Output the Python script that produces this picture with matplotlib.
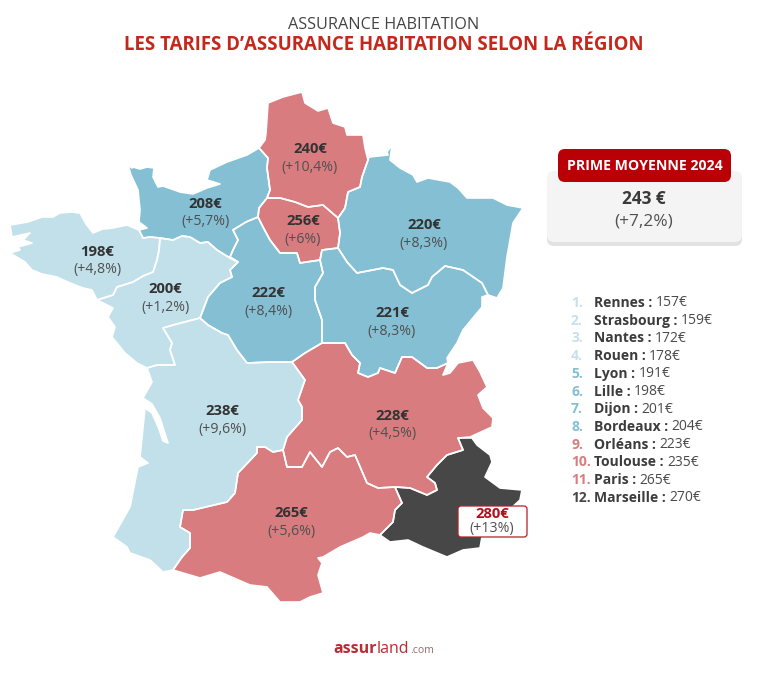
import matplotlib
matplotlib.use("Agg")
import matplotlib.pyplot as plt
from matplotlib.patches import Polygon, FancyBboxPatch

# ---------- data ----------
regions = ["Bretagne", "Pays de la Loire", "Normandie", "Hauts-de-France", "Ile-de-France", "Grand Est",
           "Centre", "Bourgogne", "Nouvelle-Aquitaine", "Auvergne-Rhone-Alpes", "Occitanie", "PACA"]
prices = ["198€", "200€", "208€", "240€", "256€", "220€", "222€", "221€", "238€", "228€", "265€", "280€"]
changes = ["(+4,8%)", "(+1,2%)", "(+5,7%)", "(+10,4%)", "(+6%)", "(+8,3%)", "(+8,4%)", "(+8,3%)", "(+9,6%)",
           "(+4,5%)", "(+5,6%)", "(+13%)"]
cities = ["Rennes", "Strasbourg", "Nantes", "Rouen", "Lyon", "Lille", "Dijon", "Bordeaux", "Orléans",
          "Toulouse", "Paris", "Marseille"]
city_prices = [157, 159, 172, 178, 191, 198, 201, 204, 223, 235, 265, 270]
city_colors = ["#c5e1ea", "#c5e1ea", "#c5e1ea", "#c5e1ea", "#84bfd4", "#84bfd4", "#84bfd4", "#84bfd4",
               "#d97c7f", "#d97c7f", "#d97c7f", "#474747"]

b_bre_pdl = [(160, 238), (159, 250), (157, 260), (153, 272), (143, 276), (133, 282), (117, 287), (113, 295), (97, 300)]
b_bre_coast = [(97, 300), (92, 290), (83, 288), (70, 283), (57, 277), (42, 274), (32, 270), (25, 262), (10, 253), (20, 250), (18, 247),
               (32, 243), (23, 240), (30, 233), (12, 237), (10, 225), (28, 222), (42, 217), (53, 217), (60, 213), (72, 212),
               (80, 213), (86, 224), (93, 233), (103, 229), (113, 228), (127, 225), (139, 230)]
b_nor_south = [(139, 230), (143, 238), (150, 237), (160, 238), (173, 240), (182, 236), (190, 237), (200, 243), (208, 242),
               (217, 250), (230, 258), (238, 262)]
b_nor_coast = [(139, 230), (147, 228), (139, 222), (140, 210), (138, 190), (131, 175), (128, 165), (132, 168),
               (133, 167), (140, 169), (147, 167), (154, 168), (153, 177), (158, 187), (163, 186), (180, 192),
               (193, 194), (207, 188), (220, 184), (207, 180), (210, 170), (227, 162), (247, 155), (259, 148)]
b_nor_hdf = [(259, 148), (268, 158), (267, 168), (270, 190), (267, 198)]
b_nor_idf = [(267, 198), (259, 208), (258, 217)]
b_nor_cvl = [(258, 217), (246, 222), (233, 230), (238, 240), (233, 250), (230, 257), (238, 262)]
b_idf_cvl = [(258, 217), (263, 227), (270, 240), (280, 253), (297, 253), (300, 263), (320, 260)]
b_idf_bfc = [(320, 260), (322, 250), (338, 248)]
b_idf_ge = [(338, 248), (340, 233), (338, 218)]
b_idf_hdf = [(338, 218), (323, 205), (308, 207), (295, 202), (280, 198), (267, 198)]
b_hdf_ge = [(338, 218), (345, 208), (348, 192), (360, 187), (362, 177), (368, 160)]
b_hdf_coast = [(368, 160), (365, 148), (363, 135), (347, 135), (345, 127), (333, 123), (328, 108), (318, 111),
               (305, 103), (302, 92), (283, 97), (268, 103), (266, 133), (265, 140), (259, 148)]
b_ge_north = [(368, 160), (369, 157), (388, 155), (387, 152), (392, 145), (390, 160), (400, 168), (413, 175),
              (417, 182), (428, 178), (450, 182), (458, 188), (467, 198), (477, 198), (493, 198), (507, 205),
              (523, 208), (513, 223), (507, 257), (503, 288), (497, 298), (488, 295)]
b_ge_bfc = [(338, 248), (347, 262), (357, 273), (383, 268), (393, 270), (400, 285), (412, 293), (428, 285),
            (432, 277), (445, 266), (463, 270), (482, 283), (488, 295)]
b_bfc_east = [(488, 295), (482, 297), (482, 307), (463, 330), (457, 343), (447, 358), (448, 363)]
b_bfc_ara = [(448, 363), (437, 368), (427, 368), (412, 357), (402, 357), (395, 373), (392, 372), (380, 368),
             (378, 373), (368, 377), (358, 373), (360, 363), (352, 355), (345, 343), (322, 343)]
b_bfc_cvl = [(322, 343), (322, 320), (315, 300), (315, 287), (323, 273), (320, 260)]
b_cvl_ara = [(322, 343), (305, 353), (292, 362)]
b_cvl_na = [(292, 362), (270, 362), (247, 363), (237, 350), (228, 335), (222, 333), (208, 325), (200, 318)]
b_cvl_pdl = [(200, 318), (208, 297), (220, 283), (232, 277), (230, 270), (238, 262)]
b_pdl_na = [(200, 318), (173, 325), (163, 328), (172, 343), (170, 350), (175, 365), (157, 365), (147, 368)]
b_pdl_coast = [(147, 368), (137, 363), (125, 353), (112, 337), (115, 327), (108, 317), (113, 308), (97, 300)]
b_na_coast = [(147, 368), (152, 382), (143, 398), (152, 404), (160, 418), (168, 443), (163, 441), (159, 429),
              (152, 413), (145, 408), (140, 457), (148, 463), (138, 467), (130, 507), (113, 537), (127, 547), (130, 553),
              (150, 560), (163, 572), (173, 570)]
b_na_occ = [(173, 570), (182, 557), (190, 548), (190, 533), (180, 527), (183, 510), (193, 510), (227, 502),
            (235, 493), (238, 473), (257, 453), (257, 447), (265, 447), (273, 452), (283, 450)]
b_na_ara = [(283, 450), (287, 437), (302, 420), (302, 407), (298, 400), (305, 380), (292, 362)]
b_occ_ara = [(283, 450), (287, 467), (302, 467), (310, 452), (322, 467), (330, 452), (338, 448), (347, 457),
             (355, 455), (367, 483), (378, 488), (395, 487)]
b_occ_paca = [(395, 487), (402, 503), (395, 510), (393, 522), (380, 535)]
b_occ_coast = [(380, 535), (370, 533), (363, 537), (340, 547), (323, 557), (318, 558), (322, 563), (318, 575),
               (323, 593), (310, 597), (300, 602), (280, 602), (267, 587), (250, 585), (220, 572), (200, 578),
               (173, 570)]
b_ara_east = [(448, 363), (443, 375), (450, 373), (458, 363), (473, 360), (480, 372), (487, 387), (478, 395),
              (483, 408), (493, 418), (492, 427), (470, 437), (458, 438)]
b_ara_paca = [(458, 438), (463, 450), (447, 455), (437, 465), (427, 477), (435, 483), (437, 490), (427, 495),
              (410, 488), (395, 487)]
b_paca_coast = [(458, 438), (472, 438), (477, 445), (490, 455), (492, 462), (485, 477), (500, 488), (522, 490),
                (520, 500), (507, 512), (482, 537), (480, 548), (463, 550), (447, 557), (423, 547), (408, 540),
                (390, 542), (380, 535)]


def rev(points):
    return points[::-1]


outlines = [
    b_bre_pdl + b_bre_coast[1:] + b_nor_south[1:4],
    b_bre_pdl + rev(b_pdl_coast)[1:] + rev(b_pdl_na)[1:] + b_cvl_pdl[1:] + rev(b_nor_south)[1:9],
    b_nor_south + rev(b_nor_cvl)[1:] + rev(b_nor_idf)[1:] + rev(b_nor_hdf)[1:] + rev(b_nor_coast)[1:],
    b_nor_hdf + rev(b_idf_hdf)[1:] + b_hdf_ge[1:] + b_hdf_coast[1:],
    b_nor_idf + b_idf_cvl[1:] + b_idf_bfc[1:] + b_idf_ge[1:] + b_idf_hdf[1:],
    b_idf_ge + b_hdf_ge[1:] + b_ge_north[1:] + rev(b_ge_bfc)[1:],
    b_nor_cvl + rev(b_cvl_pdl)[1:] + rev(b_cvl_na)[1:] + rev(b_cvl_ara)[1:] + b_bfc_cvl[1:] + rev(b_idf_cvl)[1:],
    b_ge_bfc + b_bfc_east[1:] + b_bfc_ara[1:] + b_bfc_cvl[1:] + b_idf_bfc[1:],
    rev(b_pdl_na) + rev(b_cvl_na)[1:] + rev(b_na_ara)[1:] + rev(b_na_occ)[1:] + rev(b_na_coast)[1:],
    b_cvl_ara + rev(b_na_ara)[1:] + b_occ_ara[1:] + rev(b_ara_paca)[1:] + rev(b_ara_east)[1:] + b_bfc_ara[1:],
    b_na_occ + b_occ_ara[1:] + b_occ_paca[1:] + b_occ_coast[1:],
    b_ara_paca + b_occ_paca[1:] + rev(b_paca_coast)[1:],
]
fill_colors = ["#c2e0ea", "#c2e0ea", "#84bfd4", "#d97c7f", "#d97c7f", "#84bfd4",
               "#84bfd4", "#84bfd4", "#c2e0ea", "#d97c7f", "#d97c7f", "#474747"]
label_xy = [(97, 261), (165, 298), (205, 213), (310, 158), (303, 230), (424, 234),
            (268, 302), (392, 322), (222, 420), (392, 425), (291, 522), (492, 522)]

# ---------- figure ----------
plt.rcParams["font.family"] = ["Open Sans", "DejaVu Sans"]
fig = plt.figure(figsize=(7.68, 6.74), dpi=100, facecolor="white")
ax = fig.add_axes([0, 0, 1, 1])
ax.set_xlim(0, 768)
ax.set_ylim(674, 0)
ax.axis("off")

INK = "#3c3c3c"
ax.text(384, 25, "ASSURANCE HABITATION", ha="center", va="center", fontsize=11.7, color="#444444")
ax.text(384, 45, "LES TARIFS D’ASSURANCE HABITATION SELON LA RÉGION", ha="center", va="center",
        fontsize=13.4, fontweight="bold", color="#c4281c")

for outline, color in zip(outlines, fill_colors):
    ax.add_patch(Polygon(outline, closed=True, facecolor=color, edgecolor="none", zorder=2))
for outline, color in zip(outlines, fill_colors):
    ax.add_patch(Polygon(outline, closed=True, facecolor="none", edgecolor="white", linewidth=1.2,
                         joinstyle="round", zorder=3))

# Highlight box of the top region
ax.add_patch(FancyBboxPatch((458, 506), 69, 31, boxstyle="round,pad=0,rounding_size=3", facecolor="white",
                            edgecolor="#b5202a", linewidth=0.9, zorder=4))

for i, (price, change, (x, y)) in enumerate(zip(prices, changes, label_xy)):
    top = i == len(prices) - 1
    dy_price, dy_change = (-7.5, 6.5) if top else (-9, 9)
    ax.text(x, y + dy_price, price, ha="center", va="center", fontsize=10.6, fontweight="bold",
            color="#b0101c" if top else "#333333", zorder=5)
    ax.text(x, y + dy_change, change, ha="center", va="center", fontsize=10.2, color="#505050", zorder=5)

# Average premium panel
ax.add_patch(FancyBboxPatch((547, 174), 195, 72, boxstyle="round,pad=0,rounding_size=7", facecolor="#e2e2e2",
                            edgecolor="none", zorder=2))
ax.add_patch(FancyBboxPatch((547, 171), 195, 71, boxstyle="round,pad=0,rounding_size=7", facecolor="#f4f4f4",
                            edgecolor="none", zorder=3))
ax.add_patch(FancyBboxPatch((558, 149), 173, 33, boxstyle="round,pad=0,rounding_size=7", facecolor="#b90006",
                            edgecolor="none", zorder=4))
ax.text(645, 165.5, "PRIME MOYENNE 2024", ha="center", va="center", fontsize=10.2, fontweight="bold",
        color="white", zorder=5)
ax.text(644, 199, "243 €", ha="center", va="center", fontsize=12.4, fontweight="bold", color="#3a3a3a", zorder=5)
ax.text(644, 221, "(+7,2%)", ha="center", va="center", fontsize=12.4, color="#505050", zorder=5)

# Ranking list
fig.canvas.draw()
renderer = fig.canvas.get_renderer()
for i, (city, price, color) in enumerate(zip(cities, city_prices, city_colors)):
    y = 303 + i * 17.7
    ax.text(571, y, f"{i + 1}.", ha="left", va="center", fontsize=10, fontweight="bold", color=color)
    name = ax.text(594, y, f"{city} :", ha="left", va="center", fontsize=10, fontweight="bold", color=INK)
    end = name.get_window_extent(renderer).x1
    ax.text(end + 3.5, y, f"{price}€", ha="left", va="center", fontsize=10, color="#4a4a4a")

# Logo
red = "#bd2a35"
t1 = ax.text(333, 649, "assur", ha="left", va="center", fontsize=11.5, fontweight="bold", color=red)
x1 = t1.get_window_extent(renderer).x1
t2 = ax.text(x1 + 0.5, 649, "land", ha="left", va="center", fontsize=11.5, color=red)
x2 = t2.get_window_extent(renderer).x1
ax.text(x2 + 0.5, 650.5, ".com", ha="left", va="center", fontsize=7.6, color="#9a6a6a")

fig.savefig("out.png", dpi=100, facecolor="white")
